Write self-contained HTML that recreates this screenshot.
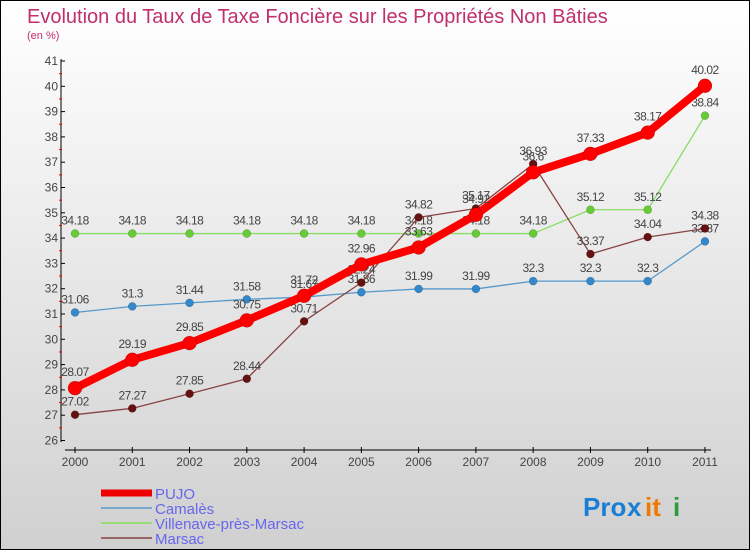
<!DOCTYPE html>
<html><head><meta charset="utf-8"><style>
body{margin:0}
#wrap{position:relative;width:748px;height:548px;border:1px solid #000;background:linear-gradient(#fff,#d0d0d0);font-family:"Liberation Sans",sans-serif;overflow:hidden}
</style></head><body>
<div id="wrap">
<svg id="svg" width="748" height="548" xmlns="http://www.w3.org/2000/svg" style="position:absolute;left:0;top:0">
<text x="26" y="22" font-size="20" fill="#c0306a">Evolution du Taux de Taxe Foncière sur les Propriétés Non Bâties</text>
<text x="26" y="38" font-size="11" fill="#c0306a">(en %)</text>
<g id="axes"></g><g id="series"></g><g id="legend"></g>
<g font-size="26" font-weight="bold">
<text x="582" y="515" fill="#1a7fd4">Pro</text><text x="626" y="515" fill="#1a7fd4">x</text><text x="644" y="515" fill="#f07800">it</text><text x="672" y="515" fill="#2a9d3a">i</text>
</g>
</svg>
</div>
<script>
const years=[2000,2001,2002,2003,2004,2005,2006,2007,2008,2009,2010,2011];
const pujo=[28.07,29.19,29.85,30.75,31.72,32.96,33.63,34.92,36.6,37.33,38.17,40.02];
const camales=[31.06,31.3,31.44,31.58,31.67,31.86,31.99,31.99,32.3,32.3,32.3,33.87];
const villenave=[34.18,34.18,34.18,34.18,34.18,34.18,34.18,34.18,34.18,35.12,35.12,38.84];
const marsac=[27.02,27.27,27.85,28.44,30.71,32.24,34.82,35.17,36.93,33.37,34.04,34.38];
const yTicks=[26,27,28,29,30,31,32,33,34,35,36,37,38,39,40,41];
const NS="http://www.w3.org/2000/svg";
const xs=i=>74+i*57.27;
const ys=v=>60+(41-v)*25.3;
function mk(p,tag,at){const e=document.createElementNS(NS,tag);for(const k in at)e.setAttribute(k,at[k]);p.appendChild(e);return e;}
const ax=document.getElementById('axes');
let l=mk(ax,'line',{x1:60,y1:58,x2:60,y2:441,stroke:'#000'});


l=mk(ax,'line',{x1:64,y1:449,x2:710,y2:449,stroke:'#000'});


yTicks.forEach(v=>{
  mk(ax,'line',{x1:60,y1:ys(v),x2:64,y2:ys(v),stroke:'#000'});
  if(v<41)mk(ax,'line',{x1:58,y1:ys(v+0.5),x2:61,y2:ys(v+0.5),stroke:'#e00'});
  const t=mk(ax,'text',{x:57,y:ys(v)+4,'font-size':12,fill:'#444','text-anchor':'end'});t.textContent=v;
  
  
});
years.forEach((y,i)=>{
  mk(ax,'line',{x1:xs(i),y1:446,x2:xs(i),y2:452,stroke:'#000'});
  const t=mk(ax,'text',{x:xs(i),y:465,'font-size':12,fill:'#444','text-anchor':'middle'});t.textContent=y;
  
  
});
const sg=document.getElementById('series');
function series(data,color,w,r,name,dot){
  const g=mk(sg,'g',{});
  
  
  mk(g,'polyline',{points:data.map((v,i)=>xs(i)+','+ys(v)).join(' '),fill:'none',stroke:color,'stroke-width':w,'stroke-linejoin':'round'});
  data.forEach((v,i)=>{
    const c=mk(g,'circle',{cx:xs(i),cy:ys(v),r:r,fill:dot,stroke:'rgba(0,0,0,0.3)','stroke-width':0.5});
    
    
    const t=mk(g,'text',{x:xs(i),y:ys(v)-r-5,'font-size':12,fill:'#444','text-anchor':'middle','letter-spacing':'-0.5'});t.textContent=v;
    
    
  });
}
series(villenave,'#88dd66',1.3,4,'villenave-series','#66cc33');
series(camales,'#5599cc',1.3,4,'camales-series','#3388cc');
series(marsac,'#884444',1.3,4,'marsac-series','#661111');
series(pujo,'#ff0000',8,7,'pujo-series','#ff0000');
const lg=document.getElementById('legend');
const items=[['PUJO','#ee0000',7],['Camalès','#77aacc',2],['Villenave-près-Marsac','#99dd77',2],['Marsac','#996666',2]];
items.forEach((it,i)=>{
  const y=492+i*15;
  const g=mk(lg,'g',{});
  
  
  mk(g,'line',{x1:100,y1:y,x2:151,y2:y,stroke:it[1],'stroke-width':it[2]});
  const t=mk(g,'text',{x:154,y:y+6,'font-size':15,fill:'#6666ee'});t.textContent=it[0];
});
</script>
</body></html>
